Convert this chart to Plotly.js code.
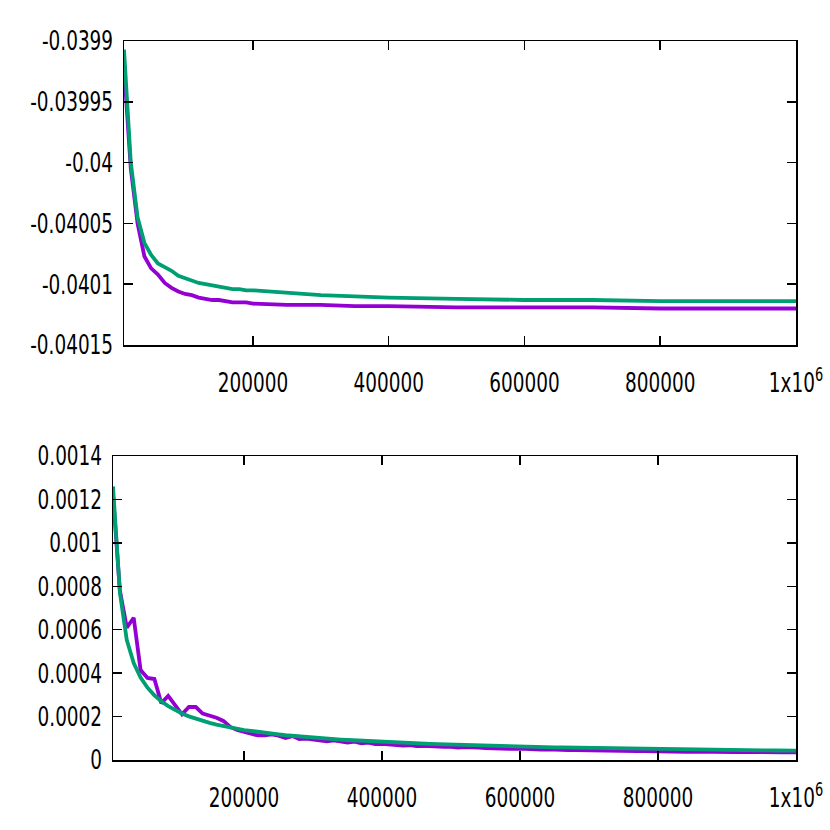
<!DOCTYPE html>
<html>
<head>
<meta charset="utf-8">
<script src="https://cdn.plot.ly/plotly-3.0.1.min.js"></script>
<style>
  body { margin: 0; background: #fff; }
  #plot { width: 830px; height: 830px; }
</style>
</head>
<body>
<div id="plot"></div>
<script>
// top panel: x grid (smooth curves, sparser sampling)
let xTop = [10000, 20000, 30000, 40000, 50000, 60000, 70000, 80000, 90000, 100000,
  110000, 120000, 130000, 140000, 150000, 160000, 170000, 180000, 190000, 200000,
  250000, 300000, 350000, 400000, 500000, 600000, 700000, 800000, 900000, 1000000];

let topPurple = [-0.039921, -0.040005, -0.040050, -0.040077, -0.040087, -0.040092, -0.040099, -0.040103, -0.040106, -0.040108,
  -0.040109, -0.040111, -0.040112, -0.040113, -0.040113, -0.040114, -0.040115, -0.040115, -0.040115, -0.040116,
  -0.040117, -0.040117, -0.040118, -0.040118, -0.040119, -0.040119, -0.040119, -0.040120, -0.040120, -0.040120];

let topGreen = [-0.039907, -0.040000, -0.040045, -0.040066, -0.040076, -0.040083, -0.040086, -0.040089, -0.040093, -0.040095,
  -0.040097, -0.040099, -0.040100, -0.040101, -0.040102, -0.040103, -0.040104, -0.040104, -0.040105, -0.040105,
  -0.040107, -0.040109, -0.040110, -0.040111, -0.040112, -0.040113, -0.040113, -0.040114, -0.040114, -0.040114];

// bottom panel: every 10000 steps
let xBot = [10000, 20000, 30000, 40000, 50000, 60000, 70000, 80000, 90000, 100000,
  110000, 120000, 130000, 140000, 150000, 160000, 170000, 180000, 190000, 200000,
  210000, 220000, 230000, 240000, 250000, 260000, 270000, 280000, 290000, 300000,
  310000, 320000, 330000, 340000, 350000, 360000, 370000, 380000, 390000, 400000,
  410000, 420000, 430000, 440000, 450000, 460000, 470000, 480000, 490000, 500000,
  510000, 520000, 530000, 540000, 550000, 560000, 570000, 580000, 590000, 600000,
  610000, 620000, 630000, 640000, 650000, 660000, 670000, 680000, 690000, 700000,
  710000, 720000, 730000, 740000, 750000, 760000, 770000, 780000, 790000, 800000,
  810000, 820000, 830000, 840000, 850000, 860000, 870000, 880000, 890000, 900000,
  910000, 920000, 930000, 940000, 950000, 960000, 970000, 980000, 990000, 1000000];

let botPurple = [0.00122, 0.00078, 0.00061, 0.000655, 0.000414, 0.000378, 0.000373, 0.000262, 0.000295, 0.00025,
  0.000210, 0.000244, 0.000244, 0.000214, 0.000205, 0.000195, 0.000180, 0.000152, 0.000138, 0.000129,
  0.000124, 0.000113, 0.000114, 0.000118, 0.000112, 0.000101, 0.000110, 0.000096, 0.000098, 0.000094,
  0.000092, 0.000086, 0.000090, 0.000083, 0.000080, 0.000085, 0.000077, 0.000080, 0.000073, 0.000074,
  0.000071, 0.000072, 0.000066, 0.000068, 0.000064, 0.000065, 0.000062, 0.000063, 0.000060, 0.000061,
  0.000057, 0.000059, 0.000056, 0.000057, 0.000055, 0.000053, 0.000054, 0.000052, 0.000051, 0.000052,
  0.000050, 0.000050, 0.000048, 0.000049, 0.000047, 0.000048, 0.000046, 0.000046, 0.000045, 0.000045,
  0.000044, 0.000044, 0.000043, 0.000043, 0.000042, 0.000042, 0.000041, 0.000041, 0.000040, 0.000040,
  0.000040, 0.000039, 0.000039, 0.000038, 0.000039, 0.000038, 0.000037, 0.000038, 0.000037, 0.000037,
  0.000036, 0.000037, 0.000036, 0.000036, 0.000035, 0.000036, 0.000035, 0.000035, 0.000035, 0.000035];

let botGreen = [0.00126, 0.00077, 0.000552, 0.000447, 0.000380, 0.000333, 0.000298, 0.000270, 0.000248, 0.000229,
  0.000214, 0.000201, 0.000190, 0.000179, 0.000171, 0.000163, 0.000156, 0.000149, 0.000144, 0.000138,
  0.000134, 0.000129, 0.000125, 0.000121, 0.000118, 0.000114, 0.000111, 0.000108, 0.000106, 0.000103,
  0.000101, 0.0000983, 0.0000961, 0.0000940, 0.0000920, 0.0000902, 0.0000884, 0.0000866, 0.0000850, 0.0000835,
  0.0000820, 0.0000806, 0.0000792, 0.0000779, 0.0000766, 0.0000754, 0.0000742, 0.0000731, 0.0000720, 0.0000709,
  0.0000699, 0.0000689, 0.0000679, 0.0000670, 0.0000662, 0.0000653, 0.0000645, 0.0000637, 0.0000629, 0.0000621,
  0.0000614, 0.0000607, 0.0000600, 0.0000593, 0.0000586, 0.0000580, 0.0000574, 0.0000568, 0.0000561, 0.0000555,
  0.0000550, 0.0000544, 0.0000539, 0.0000533, 0.0000528, 0.0000523, 0.0000518, 0.0000513, 0.0000509, 0.0000504,
  0.0000500, 0.0000495, 0.0000491, 0.0000487, 0.0000482, 0.0000478, 0.0000474, 0.0000470, 0.0000466, 0.0000462,
  0.0000458, 0.0000455, 0.0000451, 0.0000448, 0.0000444, 0.0000441, 0.0000438, 0.0000434, 0.0000431, 0.0000428];

// tick labels
let xTickVals = [200000, 400000, 600000, 800000, 1000000];
let xTickText = ["200000", "400000", "600000", "800000", "1x10<sup>6</sup>"];
let topTickVals = [-0.0399, -0.03995, -0.04, -0.04005, -0.0401, -0.04015];
let topTickText = ["-0.0399", "-0.03995", "-0.04", "-0.04005", "-0.0401", "-0.04015"];
let botTickVals = [0, 0.0002, 0.0004, 0.0006, 0.0008, 0.001, 0.0012, 0.0014];
let botTickText = ["0", "0.0002", "0.0004", "0.0006", "0.0008", "0.001", "0.0012", "0.0014"];

const purple = "#9400d3";
const green = "#009e73";
const lw = 3.8;

let data = [
  { x: xTop, y: topPurple, type: "scatter", mode: "lines", line: { color: purple, width: lw }, xaxis: "x", yaxis: "y" },
  { x: xTop, y: topGreen, type: "scatter", mode: "lines", line: { color: green, width: lw }, xaxis: "x", yaxis: "y" },
  { x: xBot, y: botPurple, type: "scatter", mode: "lines", line: { color: purple, width: lw }, xaxis: "x2", yaxis: "y2" },
  { x: xBot, y: botGreen, type: "scatter", mode: "lines", line: { color: green, width: lw }, xaxis: "x2", yaxis: "y2" }
];

// shared axis look (gnuplot style box with inward ticks)
function axisStyle(extra) {
  return Object.assign({
    showline: true, mirror: "ticks", linecolor: "#000", linewidth: 1.5,
    ticks: "inside", ticklen: 9, tickwidth: 1.5, tickcolor: "#000",
    showgrid: false, zeroline: false, automargin: false,
    tickmode: "array", ticklabeloverflow: "allow",
    tickfont: { family: "DejaVu Sans Condensed, DejaVu Sans, sans-serif", size: 27, color: "#000" }
  }, extra);
}

let layout = {
  width: 830, height: 830,
  margin: { l: 0, r: 0, t: 0, b: 0 },
  paper_bgcolor: "#fff", plot_bgcolor: "#fff",
  showlegend: false,
  xaxis: axisStyle({ domain: [124 / 830, 796 / 830], range: [10000, 1000000], anchor: "y",
    tickvals: xTickVals, ticktext: xTickText, ticklabelstandoff: 13 }),
  yaxis: axisStyle({ domain: [(830 - 345) / 830, (830 - 41) / 830], range: [-0.04015, -0.0399], anchor: "x",
    tickvals: topTickVals, ticktext: topTickText, ticklabelstandoff: 4 }),
  xaxis2: axisStyle({ domain: [113 / 830, 796 / 830], range: [10000, 1000000], anchor: "y2",
    tickvals: xTickVals, ticktext: xTickText, ticklabelstandoff: 13 }),
  yaxis2: axisStyle({ domain: [(830 - 760) / 830, (830 - 456) / 830], range: [0, 0.0014], anchor: "x2",
    tickvals: botTickVals, ticktext: botTickText, ticklabelstandoff: 4 })
};

// gnuplot's labels are tall and narrow: squeeze tick text horizontally around its anchor
const squeeze = 0.76;
Plotly.newPlot("plot", data, layout, { staticPlot: true }).then(function (gd) {
  gd.querySelectorAll(".xtick text, .ytick text, .x2tick text, .y2tick text").forEach(function (t) {
    let base = t.getAttribute("transform") || "";
    let ax = parseFloat(t.getAttribute("x")) || 0;
    t.setAttribute("transform", base + " translate(" + ax + ",0) scale(" + squeeze + ",1) translate(" + (-ax) + ",0)");
  });
});
</script>
</body>
</html>
